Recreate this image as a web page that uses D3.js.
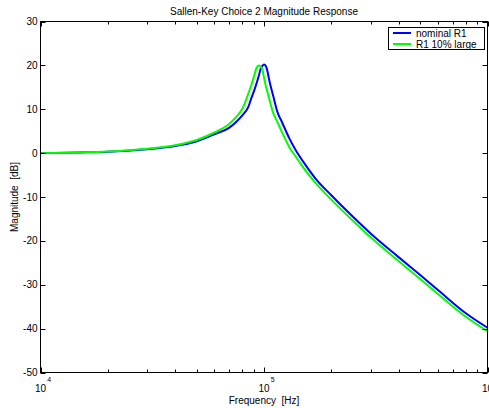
<!DOCTYPE html>
<html><head><meta charset="utf-8">
<script src="https://cdn.jsdelivr.net/npm/d3@7"></script>
<style>body{margin:0;background:#fff}svg{display:block}text{font-family:"Liberation Sans",Arial,sans-serif;white-space:pre}</style>
</head><body>
<svg id="c" width="489" height="408"></svg>
<script>
const freq = [10000,15000,20000,30000,40000,50000,60000,70000,75000,80000,85000,88000,91000,93000,95000,97000,98000,100000,102000,103000,106000,110000,115000,120000,130000,140000,150000,170000,200000,250000,300000,400000,500000,600000,800000,1000000];
const nominalR1 = [0.0,0.15,0.3,0.9,1.6,2.7,4.3,5.8,7.1,8.6,10.5,12.7,14.7,16.2,17.8,19.5,19.8,20.2,19.8,19.2,16.2,13.0,9.3,7.2,3.3,0.3,-2.0,-5.8,-9.6,-14.5,-18.3,-23.7,-27.8,-31.2,-36.5,-39.8];
const largeR1 = [0.0,0.15,0.35,1.0,1.8,3.0,4.7,6.7,8.2,10.1,13.5,15.7,18.2,19.6,20.0,19.6,19.3,17.2,15.2,14.4,12.0,9.1,7.0,4.9,1.3,-1.1,-3.3,-6.8,-10.6,-15.4,-19.2,-24.6,-28.7,-32.1,-37.3,-40.6];
const seriesNames = ["nominal R1","R1 10% large"];
const seriesColors = ["#0000ff","#00ff00"];
const yTicks = [-50,-40,-30,-20,-10,0,10,20,30];
const xMajor = [1e4,1e5,1e6];
const xExp = ["4","5","6"];
const title = "Sallen-Key Choice 2 Magnitude Response";
const xLabel = "Frequency  [Hz]";
const yLabel = "Magnitude  [dB]";

const L=40.5,R=487.5,T=21.5,B=372.5;
const svg=d3.select("#c");
const x=d3.scaleLog().domain([1e4,1e6]).range([L,R]);
const y=d3.scaleLinear().domain([-50,30]).range([B,T]);

svg.append("defs").append("clipPath").attr("id","clip").append("rect")
  .attr("x",L).attr("y",T).attr("width",R-L).attr("height",B-T);

const line=d3.line().x(d=>x(d[0])).y(d=>y(d[1])).curve(d3.curveMonotoneX);
const data=[nominalR1,largeR1];
const g=svg.append("g").attr("clip-path","url(#clip)");
data.forEach((s,i)=>{
  g.append("path").datum(freq.map((f,k)=>[f,s[k]]))
   .attr("d",line).attr("fill","none").attr("stroke",seriesColors[i]).attr("stroke-width",2);
});

svg.append("rect").attr("x",L).attr("y",T).attr("width",R-L).attr("height",B-T)
  .attr("fill","none").attr("stroke","#000").attr("stroke-width",1);

yTicks.forEach(v=>{
  const yy=Math.round(y(v))+0.5;
  svg.append("line").attr("x1",L).attr("x2",L+5).attr("y1",yy).attr("y2",yy).attr("stroke","#000");
  svg.append("line").attr("x1",R-5).attr("x2",R).attr("y1",yy).attr("y2",yy).attr("stroke","#000");
  svg.append("text").attr("x",L-3).attr("y",y(v)+3.5).attr("text-anchor","end")
    .attr("font-size",10).text(v);
});
const minors=[];
for(let d=1e4; d<1e6; d*=10) for(let m=2;m<=9;m++) minors.push(d*m);
minors.forEach(f=>{
  const xx=Math.round(x(f))+0.5;
  svg.append("line").attr("x1",xx).attr("x2",xx).attr("y1",B).attr("y2",B-3).attr("stroke","#000");
  svg.append("line").attr("x1",xx).attr("x2",xx).attr("y1",T).attr("y2",T+3).attr("stroke","#000");
});
xMajor.forEach((f,i)=>{
  const xx=Math.round(x(f))+0.5;
  svg.append("line").attr("x1",xx).attr("x2",xx).attr("y1",B).attr("y2",B-5).attr("stroke","#000");
  svg.append("line").attr("x1",xx).attr("x2",xx).attr("y1",T).attr("y2",T+5).attr("stroke","#000");
  const t=svg.append("text").attr("x",x(f)-5.5).attr("y",392).attr("font-size",10);
  t.append("tspan").text("10");
  t.append("tspan").attr("font-size",7).attr("dx",1).attr("dy",-10).text(xExp[i]);
});

svg.append("text").attr("x",(L+R)/2).attr("y",15).attr("text-anchor","middle").attr("font-size",10).text(title);
svg.append("text").attr("x",(L+R)/2).attr("y",404).attr("text-anchor","middle").attr("font-size",10).text(xLabel);
svg.append("text").attr("transform",`translate(18,${(T+B)/2}) rotate(-90)`).attr("text-anchor","middle").attr("font-size",10).text(yLabel);

const lg=svg.append("g");
lg.append("rect").attr("x",388.5).attr("y",27.5).attr("width",96).attr("height",22)
  .attr("fill","#fff").attr("stroke","#000");
seriesNames.forEach((n,i)=>{
  const yy=33+i*11;
  lg.append("line").attr("x1",393).attr("x2",411).attr("y1",yy).attr("y2",yy)
    .attr("stroke",seriesColors[i]).attr("stroke-width",2);
  lg.append("text").attr("x",416).attr("y",yy+3.5).attr("font-size",10).text(n);
});
</script>
</body></html>
